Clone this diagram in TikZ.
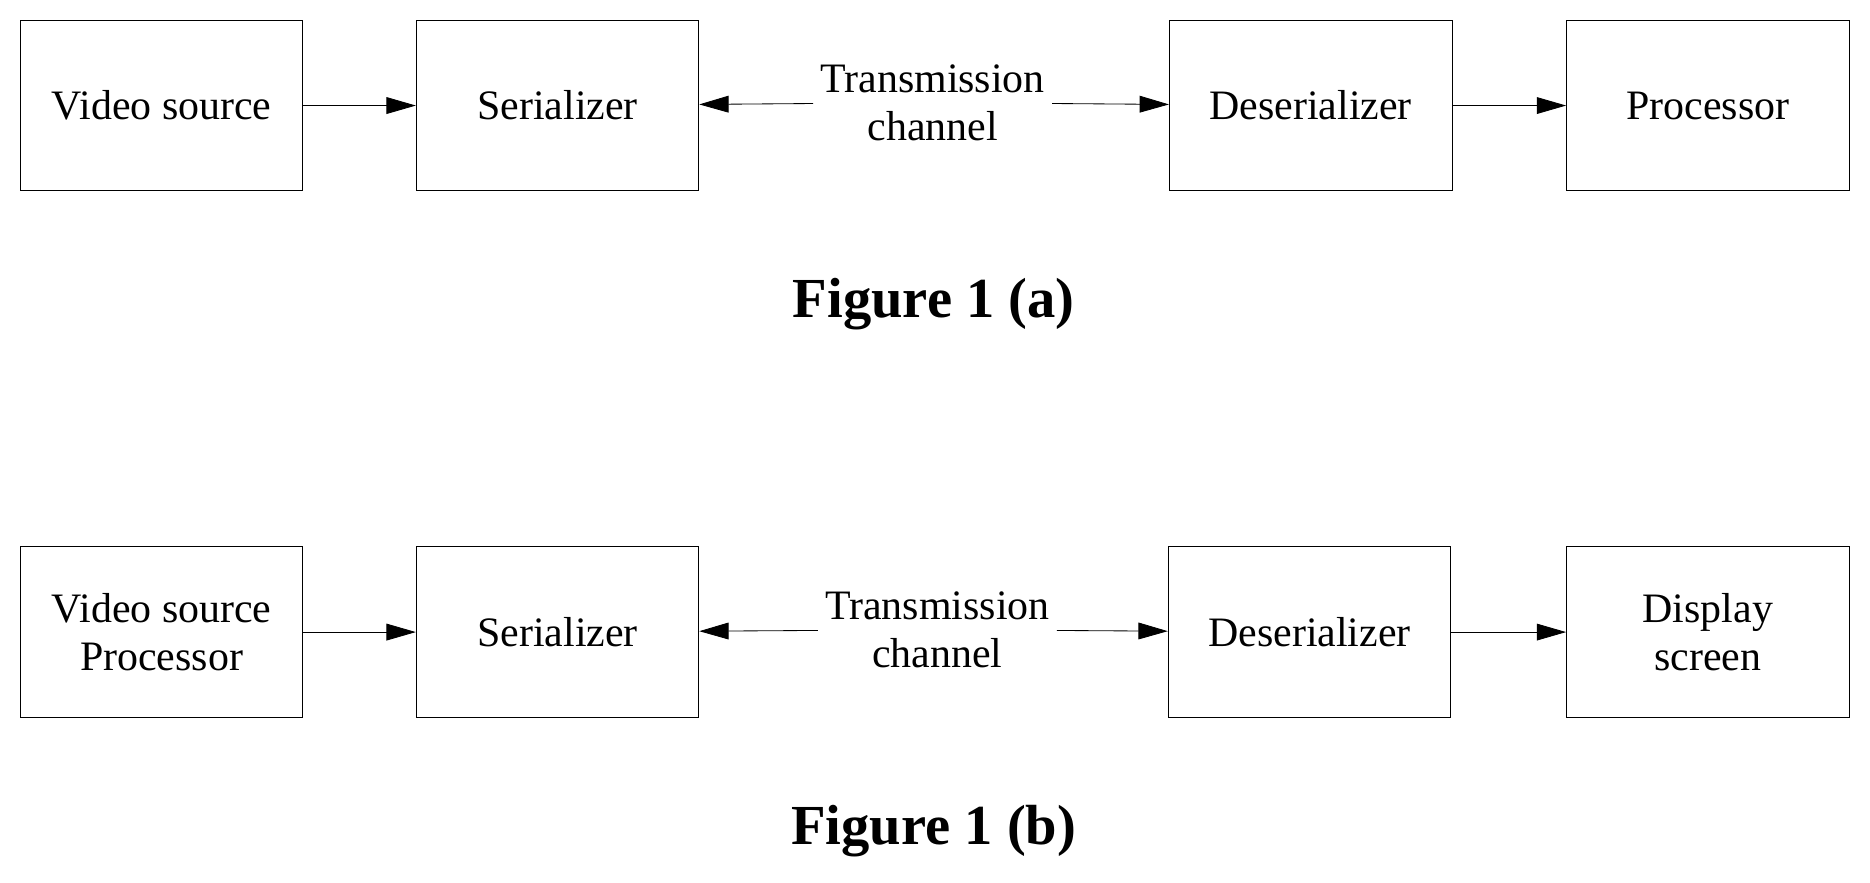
\documentclass[tikz,border=0pt]{standalone}
\usepackage{fontspec}
\setmainfont{Liberation Serif}
\usetikzlibrary{arrows.meta}
\begin{document}
\begin{tikzpicture}[x=0.02cm,y=-0.02cm]
\tikzset{blk/.style={draw,thin,minimum width=4.74cm,minimum height=2.86cm,align=center,font=\fontsize{20}{23}\selectfont},
  txt/.style={align=center,font=\fontsize{20}{23}\selectfont},
  figcap/.style={font=\fontsize{27}{30}\selectfont\bfseries},
  arr/.style={-{Triangle[length=14pt,width=8pt]},thin}}
\useasboundingbox (0,0) rectangle (1568,740);
% Figure 1 (a)
\node[blk] (vsa) at (135.5,88.5) {Video source};
\node[blk] (sera) at (467.5,88.5) {Serializer};
\node[txt] (cha) at (782,86) {Transmission\\channel};
\node[blk] (desa) at (1099,88.5) {Deserializer};
\node[blk] (proa) at (1432,88.5) {Processor};
\draw[arr] (vsa) -- (sera);
\draw[arr] (cha) -- (sera);
\draw[arr] (cha) -- (desa);
\draw[arr] (desa) -- (proa);
\node[figcap] (capa) at (783,255) {Figure 1 (a)};
% Figure 1 (b)
\node[blk] (vsb) at (135.5,530) {Video source\\Processor};
\node[blk] (serb) at (467.5,530) {Serializer};
\node[txt] (chb) at (786,528) {Transmission\\channel};
\node[blk] (desb) at (1098,530) {Deserializer};
\node[blk] (disb) at (1432,530) {Display\\screen};
\draw[arr] (vsb) -- (serb);
\draw[arr] (chb) -- (serb);
\draw[arr] (chb) -- (desb);
\draw[arr] (desb) -- (disb);
\node[figcap] (capb) at (783,697) {Figure 1 (b)};
\end{tikzpicture}
\end{document}
